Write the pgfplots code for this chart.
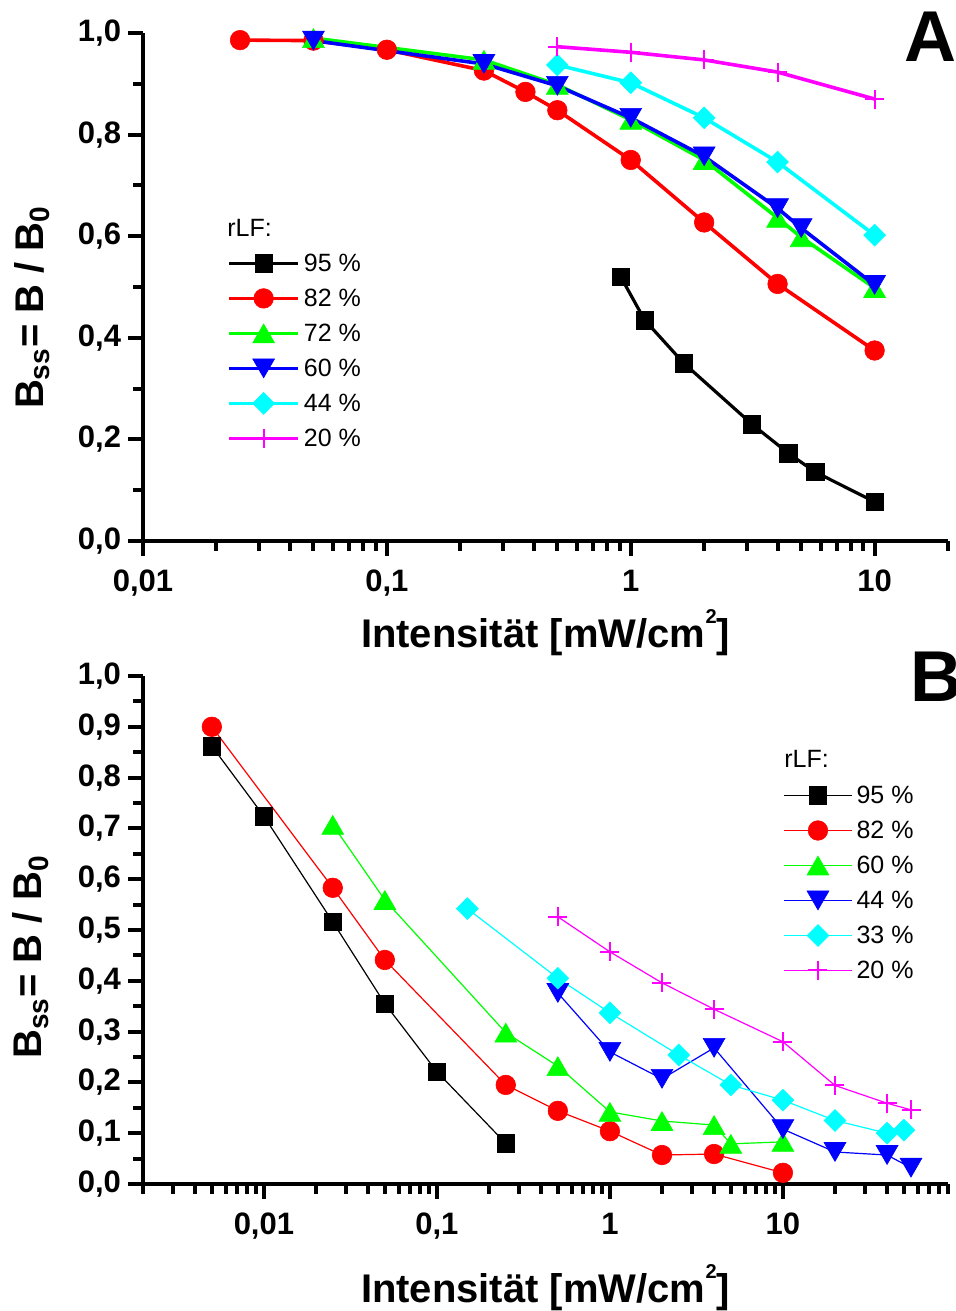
\documentclass[border=0pt]{standalone}
\usepackage{pgfplots}
\pgfplotsset{compat=1.18}
\usepackage{fontspec}
\setmainfont{Liberation Sans}

\definecolor{cB}{RGB}{0,0,0}
\definecolor{cR}{RGB}{255,0,0}
\definecolor{cG}{RGB}{0,255,0}
\definecolor{cBl}{RGB}{0,0,255}
\definecolor{cC}{RGB}{0,255,255}
\definecolor{cM}{RGB}{255,0,255}

\pgfplotsset{
  basestyle/.style={
    scale only axis, width=402.5pt, height=254pt,
    ymin=0, ymax=1,
    axis x line*=bottom, axis y line*=left,
    axis line style={line width=2pt, -},
    tick style={line width=2pt, black},
    tick align=outside,
    major tick length=7.5pt, minor tick length=5pt,
    tick label style={font=\fontsize{15.5}{15.5}\selectfont\bfseries},
    xticklabel style={yshift=-3.5pt},
    label style={font=\fontsize{20}{20}\selectfont\bfseries},
    xtick={0.01,0.1,1,10}, xticklabels={{0,01},{0,1},1,10},
    clip=false,
    legend cell align=left,
    legend style={draw=none, fill=none, inner sep=0pt, row sep=0pt, column sep=2pt,
      font=\fontsize{12.5}{12.5}\selectfont, nodes={inner sep=0pt, anchor=base west}},
  },
  upT/.style={mark=triangle*, mark size=6.3pt, mark options={solid, line width=0.3pt, yshift=-1.6pt}},
  dnT/.style={mark=triangle*, mark size=6.3pt, mark options={solid, line width=0.3pt, yshift=1.6pt, rotate=180}},
  sqM/.style={mark=square*, mark size=4.4pt, mark options={solid, line width=0.3pt}},
  ciM/.style={mark=*, mark size=4.9pt, mark options={solid, line width=0.3pt}},
  diM/.style={mark=square*, mark size=3.85pt, mark options={solid, line width=0.3pt, rotate=45}},
  plM/.style={mark=+, mark size=4.75pt, mark options={solid, line width=1pt}},
}

\newcommand{\xlab}{Intensit\"at [mW/cm\raisebox{12pt}{\fontsize{10}{10}\selectfont 2}]}
\newcommand{\ylab}{B\textsubscript{ss}= B / B\textsubscript{0}}

\begin{document}
\begin{tikzpicture}
\useasboundingbox (0,0) rectangle (478pt,655.5pt);

% ---------------- Panel A ----------------
\begin{semilogxaxis}[basestyle,
  at={(71.5pt,385pt)}, anchor=south west,
  xmin=0.01, xmax=20,
  minor xtick={0.02,0.03,0.04,0.05,0.06,0.07,0.08,0.09,0.2,0.3,0.4,0.5,0.6,0.7,0.8,0.9,2,3,4,5,6,7,8,9,20},
  ytick={0,0.2,0.4,0.6,0.8,1.0},
  yticklabels={{0,0},{0,2},{0,4},{0,6},{0,8},{1,0}},
  minor ytick={0.1,0.3,0.5,0.7,0.9},
  xlabel={\xlab},
  ylabel={\ylab},
  xlabel style={at={(axis description cs:0.5,-0.2087)}, anchor=base},
  ylabel style={at={(axis description cs:-0.124,0.46)}, anchor=base},
  legend style={at={(axis description cs:0.1043,0.5817)}, anchor=north west},
  legend image code/.code={\path[draw=none,fill=none] (0pt,-4.55pt) rectangle (34.5pt,12.95pt);
    \draw[mark repeat=2,mark phase=2,#1] plot coordinates {(0pt,4.2pt) (17.25pt,4.2pt) (34.5pt,4.2pt)};},
]
\addplot[cB, line width=1.6pt, sqM] coordinates {
 (0.91,0.52) (1.14,0.435) (1.65,0.35) (3.14,0.23) (4.42,0.173) (5.7,0.136) (10,0.077)};
\addlegendentry{95 \%}
\addplot[cR, line width=1.8pt, ciM] coordinates {
 (0.025,0.986) (0.05,0.985) (0.1,0.967) (0.25,0.926) (0.37,0.884) (0.5,0.848) (1,0.75) (2,0.627) (4,0.506) (10,0.375)};
\addlegendentry{82 \%}
\addplot[cG, line width=1.8pt, upT] coordinates {
 (0.05,0.99) (0.25,0.947) (0.5,0.898) (1,0.829) (2,0.75) (4,0.636) (5,0.598) (10,0.498)};
\addlegendentry{72 \%}
\addplot[cBl, line width=1.8pt, dnT] coordinates {
 (0.05,0.985) (0.25,0.939) (0.5,0.896) (1,0.833) (2,0.757) (4,0.655) (5,0.616) (10,0.504)};
\addlegendentry{60 \%}
\addplot[cC, line width=1.8pt, diM] coordinates {
 (0.5,0.937) (1,0.902) (2,0.833) (4,0.746) (10,0.602)};
\addlegendentry{44 \%}
\addplot[cM, line width=1.8pt, plM] coordinates {
 (0.5,0.973) (1,0.962) (2,0.947) (4,0.923) (10,0.87)};
\addlegendentry{20 \%}
\end{semilogxaxis}

% ---------------- Panel B ----------------
\begin{semilogxaxis}[basestyle,
  at={(71.5pt,63.5pt)}, anchor=south west,
  xmin=0.002, xmax=90,
  minor xtick={0.002,0.003,0.004,0.005,0.006,0.007,0.008,0.009,0.02,0.03,0.04,0.05,0.06,0.07,0.08,0.09,0.2,0.3,0.4,0.5,0.6,0.7,0.8,0.9,2,3,4,5,6,7,8,9,20,30,40,50,60,70,80,90},
  ytick={0,0.1,0.2,0.3,0.4,0.5,0.6,0.7,0.8,0.9,1.0},
  yticklabels={{0,0},{0,1},{0,2},{0,3},{0,4},{0,5},{0,6},{0,7},{0,8},{0,9},{1,0}},
  minor ytick={0.05,0.15,0.25,0.35,0.45,0.55,0.65,0.75,0.85,0.95},
  xlabel={\xlab},
  ylabel={\ylab},
  xlabel style={at={(axis description cs:0.5,-0.234)}, anchor=base},
  ylabel style={at={(axis description cs:-0.1255,0.447)}, anchor=base},
  legend style={at={(axis description cs:0.795,0.800)}, anchor=north west},
  legend image code/.code={\path[draw=none,fill=none] (0pt,-4.55pt) rectangle (34pt,12.95pt);
    \draw[mark repeat=2,mark phase=2,#1] plot coordinates {(0pt,4.2pt) (17pt,4.2pt) (34pt,4.2pt)};},
]
\addplot[cB, line width=0.6pt, sqM] coordinates {
 (0.005,0.862) (0.01,0.724) (0.025,0.516) (0.05,0.355) (0.1,0.221) (0.25,0.08)};
\addlegendentry{95 \%}
\addplot[cR, line width=0.6pt, ciM] coordinates {
 (0.005,0.90) (0.025,0.583) (0.05,0.441) (0.25,0.195) (0.5,0.144) (1,0.104) (2,0.057) (4,0.059) (10,0.022)};
\addlegendentry{82 \%}
\addplot[cG, line width=0.6pt, upT] coordinates {
 (0.025,0.707) (0.05,0.559) (0.25,0.298) (0.5,0.232) (1,0.142) (2,0.124) (4,0.116) (5,0.079) (10,0.083)};
\addlegendentry{60 \%}
\addplot[cBl, line width=0.6pt, dnT] coordinates {
 (0.5,0.376) (1,0.26) (2,0.207) (4,0.268) (10,0.108) (20,0.063) (40,0.057) (55,0.032)};
\addlegendentry{44 \%}
\addplot[cC, line width=0.6pt, diM] coordinates {
 (0.15,0.542) (0.5,0.405) (1,0.337) (2.5,0.254) (5,0.195) (10,0.165) (20,0.125) (40,0.100) (50,0.106)};
\addlegendentry{33 \%}
\addplot[cM, line width=0.6pt, plM] coordinates {
 (0.5,0.526) (1,0.457) (2,0.396) (4,0.344) (10,0.280) (20,0.194) (40,0.159) (55,0.146)};
\addlegendentry{20 \%}
\end{semilogxaxis}

\node[anchor=base west, inner sep=0pt, font=\fontsize{12.5}{12.5}\selectfont] at (113.5pt,537pt) {rLF:};
\node[anchor=base west, inner sep=0pt, font=\fontsize{12.5}{12.5}\selectfont] at (392pt,271.5pt) {rLF:};
\node[anchor=base west, inner sep=0pt, font=\fontsize{36}{36}\selectfont\bfseries] at (452pt,624.5pt) {A};
\node[anchor=base west, inner sep=0pt, font=\fontsize{36}{36}\selectfont\bfseries] at (455pt,304.5pt) {B};
\end{tikzpicture}
\end{document}
